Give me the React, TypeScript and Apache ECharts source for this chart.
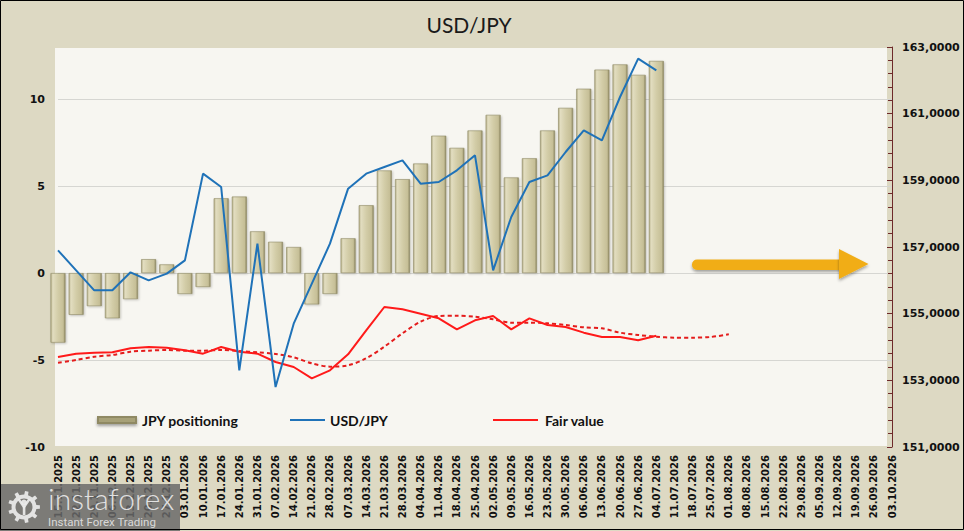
import React, { useEffect, useRef } from "react";
import * as echarts from "echarts";

// Weekly dates shown on the category axis
const dates: string[] = [
  "15.11.2025", "22.11.2025", "29.11.2025", "06.12.2025", "13.12.2025", "20.12.2025", "27.12.2025",
  "03.01.2026", "10.01.2026", "17.01.2026", "24.01.2026", "31.01.2026",
  "07.02.2026", "14.02.2026", "21.02.2026", "28.02.2026",
  "07.03.2026", "14.03.2026", "21.03.2026", "28.03.2026",
  "04.04.2026", "11.04.2026", "18.04.2026", "25.04.2026",
  "02.05.2026", "09.05.2026", "16.05.2026", "23.05.2026", "30.05.2026",
  "06.06.2026", "13.06.2026", "20.06.2026", "27.06.2026",
  "04.07.2026", "11.07.2026", "18.07.2026", "25.07.2026",
  "01.08.2026", "08.08.2026", "15.08.2026", "22.08.2026", "29.08.2026",
  "05.09.2026", "12.09.2026", "19.09.2026", "26.09.2026", "03.10.2026",
];

// Net JPY positioning (left axis)
const jpyPositioning: number[] = [
  -4.0, -2.4, -1.9, -2.6, -1.5, 0.8, 0.5, -1.2, -0.8, 4.3, 4.4, 2.4, 1.8, 1.5, -1.8, -1.2,
  2.0, 3.9, 5.9, 5.4, 6.3, 7.9, 7.2, 8.2, 9.1, 5.5, 6.6, 8.2, 9.5, 10.6, 11.7, 12.0, 11.4, 12.2,
];

// USD/JPY rate (right axis)
const usdJpy: number[] = [
  156.9, 156.3, 155.7, 155.7, 156.24, 156.0, 156.2, 156.6, 159.2, 158.8, 153.3, 157.1, 152.8,
  154.7, 155.9, 157.1, 158.75, 159.2, 159.4, 159.6, 158.9, 158.95, 159.3, 159.75, 156.3,
  157.9, 158.95, 159.15, 159.85, 160.5, 160.2, 161.5, 162.65, 162.3,
];

// Fair value estimate (right axis)
const fairValue: number[] = [
  153.7, 153.8, 153.83, 153.84, 153.96, 154.0, 153.98, 153.9, 153.8, 154.0, 153.86, 153.8,
  153.55, 153.4, 153.06, 153.3, 153.78, 154.5, 155.2, 155.13, 155.0, 154.86, 154.53, 154.8,
  154.93, 154.53, 154.86, 154.66, 154.6, 154.43, 154.3, 154.3, 154.2, 154.34,
];

// Smoothed fair value trend, extended a few weeks ahead
const fairValueTrend: number[] = [
  153.53, 153.61, 153.71, 153.76, 153.86, 153.89, 153.91, 153.89, 153.89, 153.91, 153.88,
  153.84, 153.79, 153.69, 153.51, 153.41, 153.45, 153.66, 154.01, 154.41, 154.76, 154.93,
  154.94, 154.91, 154.83, 154.73, 154.73, 154.71, 154.66, 154.59, 154.56, 154.43, 154.36,
  154.31, 154.28, 154.28, 154.3, 154.38,
];

const leftTicks = { min: -10, max: 13, interval: 5 };
const rightTicks = { min: 151, max: 163, interval: 2 };

const BOLD_AXIS = "'DejaVu Sans', Verdana, sans-serif";
const LEGEND_FONT = "Lato, 'Noto Sans', sans-serif";

// Gear outline for the watermark icon, centred on the origin
function gearPath(rOut: number, rIn: number, rHole: number, teeth: number): string {
  const pts: string[] = [];
  const step = (Math.PI * 2) / teeth;
  for (let k = 0; k < teeth; k++) {
    const a = k * step;
    const seq = [
      [rIn, a - step * 0.5],
      [rIn, a - step * 0.22],
      [rOut, a - step * 0.16],
      [rOut, a + step * 0.16],
      [rIn, a + step * 0.22],
    ];
    for (const [r, t] of seq) {
      pts.push(`${(r * Math.cos(t)).toFixed(2)} ${(r * Math.sin(t)).toFixed(2)}`);
    }
  }
  let d = "M " + pts[0] + " L " + pts.slice(1).join(" L ") + " Z ";
  d += `M ${rHole} 0 A ${rHole} ${rHole} 0 1 0 ${-rHole} 0 A ${rHole} ${rHole} 0 1 0 ${rHole} 0 Z`;
  return d;
}

let gearRegistered = false;
function registerGear() {
  if (gearRegistered) return;
  echarts.graphic.registerShape("ifxGear", echarts.graphic.extendPath(gearPath(16, 12.5, 8.5, 9), {}));
  gearRegistered = true;
}

export default function App() {
  const ref = useRef<HTMLDivElement>(null);

  useEffect(() => {
    if (!ref.current) return;
    registerGear();
    const chart = echarts.init(ref.current, undefined, { renderer: "svg" });

    const barFill = new echarts.graphic.LinearGradient(0, 0, 1, 0, [
      { offset: 0, color: "#b3ad86" },
      { offset: 0.14, color: "#e2ddc0" },
      { offset: 0.5, color: "#d3cda8" },
      { offset: 0.86, color: "#c6bf97" },
      { offset: 1, color: "#8e8862" },
    ]);

    const wm = "rgba(236,236,236,0.92)";

    chart.setOption({
      animation: false,
      backgroundColor: "#ddd9c3",
      grid: { left: 58, right: 72, top: 47, bottom: 84, containLabel: false },
      xAxis: {
        type: "category",
        data: dates,
        boundaryGap: false,
        axisLine: { show: false },
        axisTick: { show: false },
        axisLabel: {
          interval: 0,
          rotate: 90,
          margin: 8,
          color: "#111",
          fontFamily: BOLD_AXIS,
          fontWeight: "bold",
          fontSize: 10,
        },
      },
      yAxis: [
        {
          type: "value",
          position: "left",
          min: leftTicks.min,
          max: leftTicks.max,
          interval: leftTicks.interval,
          axisLine: { show: false },
          axisTick: { show: false },
          splitLine: { show: true, showMinLine: false, showMaxLine: false, lineStyle: { color: "#d6d6d2", width: 1 } },
          axisLabel: {
            margin: 13,
            showMaxLabel: false,
            color: "#111",
            fontFamily: BOLD_AXIS,
            fontWeight: "bold",
            fontSize: 11,
            formatter: (v: number) => (v % 5 === 0 ? String(v) : ""),
          },
        },
        {
          type: "value",
          position: "right",
          min: rightTicks.min,
          max: rightTicks.max,
          interval: rightTicks.interval,
          axisLine: { show: true, lineStyle: { color: "#6e2a2a", width: 1 } },
          axisTick: { show: true, inside: true, length: 5, lineStyle: { color: "#6e2a2a" } },
          minorTick: { show: true, splitNumber: 5, length: 4, lineStyle: { color: "#6e2a2a" } },
          splitLine: { show: false },
          axisLabel: {
            margin: 10,
            color: "#111",
            fontFamily: BOLD_AXIS,
            fontWeight: "bold",
            fontSize: 11,
            formatter: (v: number) => v.toFixed(4).replace(".", ","),
          },
        },
      ],
      legend: [
        {
          left: 92,
          top: 408,
          selectedMode: false,
          itemWidth: 38,
          itemHeight: 6,
          data: [{ name: "JPY positioning", icon: "rect", itemStyle: { color: "#a7a178", shadowColor: "rgba(0,0,0,0.35)", shadowBlur: 3, shadowOffsetY: 2 } }],
          textStyle: { fontFamily: LEGEND_FONT, fontWeight: "bold", fontSize: 14, color: "#111", padding: [0, 0, 0, 1] },
        },
        {
          left: 285,
          top: 408,
          selectedMode: false,
          itemWidth: 35,
          itemHeight: 2,
          data: [{ name: "USD/JPY", icon: "rect" }],
          textStyle: { fontFamily: LEGEND_FONT, fontWeight: "bold", fontSize: 14, color: "#111", padding: [0, 0, 0, 0] },
        },
        {
          left: 488,
          top: 408,
          selectedMode: false,
          itemWidth: 45,
          itemHeight: 2,
          data: [{ name: "Fair value", icon: "rect" }],
          textStyle: { fontFamily: LEGEND_FONT, fontWeight: "bold", fontSize: 14, color: "#111", padding: [0, 0, 0, 2] },
        },
      ],
      series: [
        {
          name: "JPY positioning",
          type: "bar",
          yAxisIndex: 0,
          data: jpyPositioning,
          barWidth: 15,
          itemStyle: {
            color: barFill,
            borderColor: "#8f8964",
            borderWidth: 0.6,
            shadowColor: "rgba(0,0,0,0.22)",
            shadowBlur: 2,
            shadowOffsetX: 1,
            shadowOffsetY: 1,
          },
          z: 2,
        },
        {
          name: "Fair value trend",
          type: "line",
          yAxisIndex: 1,
          data: fairValueTrend,
          symbol: "none",
          smooth: 0.3,
          lineStyle: { color: "#e41c1c", width: 2, type: [4, 3] },
          z: 3,
        },
        {
          name: "Fair value",
          type: "line",
          yAxisIndex: 1,
          data: fairValue,
          symbol: "none",
          lineStyle: { color: "#ff1a1a", width: 2 },
          itemStyle: { color: "#ff1a1a" },
          z: 4,
        },
        {
          name: "USD/JPY",
          type: "line",
          yAxisIndex: 1,
          data: usdJpy,
          symbol: "none",
          lineStyle: { color: "#1f72b8", width: 2 },
          itemStyle: { color: "#1f72b8" },
          z: 5,
        },
      ],
      graphic: [
        // plot area background
        { type: "rect", z: -10, silent: true, shape: { x: 55, y: 48, width: 832, height: 398 }, style: { fill: "#f7f6f1" } },
        // title
        {
          type: "text",
          z: 10,
          x: 469,
          y: 24,
          style: {
            text: "USD/JPY",
            fill: "#1a1a1a",
            fontSize: 21,
            fontFamily: "Lato, 'Noto Sans', sans-serif",
            textAlign: "center",
            textVerticalAlign: "middle",
          },
        },
        // direction arrow
        {
          type: "rect",
          z: 20,
          shape: { x: 692, y: 259.5, width: 150, height: 10.5, r: [5, 0, 0, 5] },
          style: { fill: "#f1ad15", shadowColor: "rgba(0,0,0,0.35)", shadowBlur: 3, shadowOffsetY: 2 },
        },
        {
          type: "polygon",
          z: 20,
          shape: { points: [[839, 249], [868.5, 264], [839, 279]] },
          style: { fill: "#f1ad15", shadowColor: "rgba(0,0,0,0.35)", shadowBlur: 3, shadowOffsetY: 2 },
        },
        // watermark
        { type: "rect", z: 50, shape: { x: 0, y: 484, width: 180, height: 47 }, style: { fill: "rgba(105,105,105,0.84)" } },
        { type: "ifxGear", z: 51, x: 24, y: 507, style: { fill: wm } },
        { type: "circle", z: 51, shape: { cx: 24, cy: 502.5, r: 3 }, style: { fill: wm } },
        {
          type: "polyline",
          z: 51,
          shape: { points: [[18.5, 499], [24, 507], [29.5, 499]] },
          style: { stroke: wm, lineWidth: 2.5, fill: "none" },
        },
        { type: "rect", z: 51, shape: { x: 22.8, y: 506, width: 2.6, height: 9 }, style: { fill: wm } },
        {
          type: "text",
          z: 51,
          x: 48,
          y: 513,
          style: {
            text: "instaforex",
            fill: wm,
            fontSize: 30,
            fontWeight: 300,
            fontFamily: "Lato, 'Open Sans', sans-serif",
            textVerticalAlign: "bottom",
          },
        },
        {
          type: "text",
          z: 51,
          x: 48,
          y: 522,
          style: {
            text: "Instant Forex Trading",
            fill: "rgba(228,228,228,0.9)",
            fontSize: 11.5,
            fontFamily: "Roboto, 'Noto Sans', sans-serif",
            textVerticalAlign: "middle",
          },
        },
        // outer frame
        { type: "rect", z: 60, silent: true, shape: { x: 0.5, y: 0.5, width: 963, height: 529 }, style: { fill: "none", stroke: "#000", lineWidth: 1 } },
      ],
    });

    return () => chart.dispose();
  }, []);

  return <div ref={ref} style={{ position: "fixed", left: 0, top: 0, width: 964, height: 531 }} />;
}
